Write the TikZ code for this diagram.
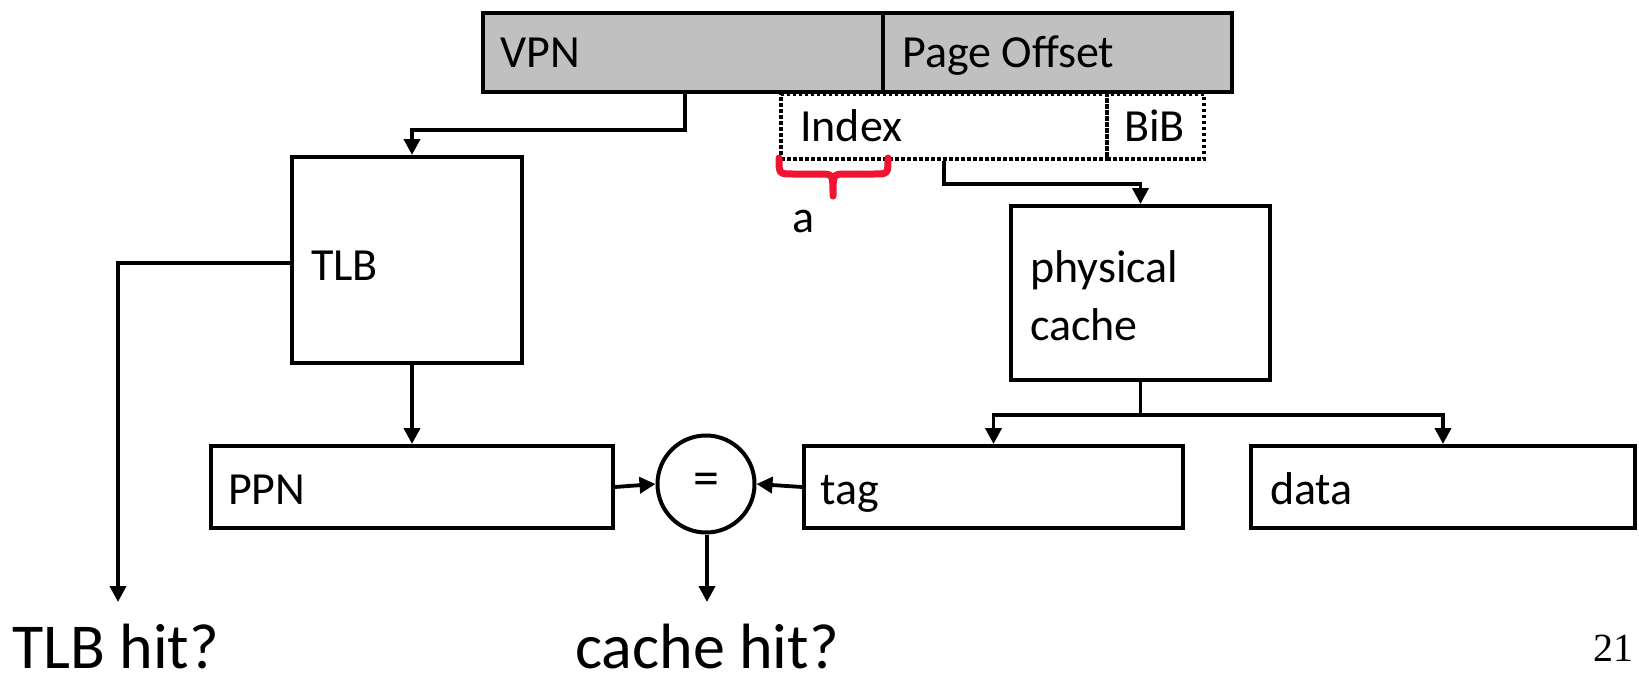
\documentclass[tikz,border=0pt]{standalone}
\usepackage{fontspec}
\setmainfont{Carlito}
\newfontfamily\numfont{Liberation Serif}
\usetikzlibrary{shapes.geometric,arrows.meta,calc}
\definecolor{boxgray}{RGB}{192,192,192}
\definecolor{bracered}{RGB}{240,20,50}
\begin{document}
\begin{tikzpicture}[x=1pt,y=-1pt,
  box/.style={draw, line width=4pt, rectangle, inner sep=0pt, anchor=north west},
  graybox/.style={box, line width=4.2pt, fill=boxgray},
  dotbox/.style={draw, line width=4pt, dash pattern=on 3.5pt off 2.5pt, rectangle, inner sep=0pt, anchor=north west},
  lbl/.style={anchor=base west, inner sep=0pt, font=\fontsize{46}{56}\selectfont},
  big/.style={anchor=base west, inner sep=0pt, font=\fontsize{64}{76}\selectfont},
  arr/.style={draw, line width=3.8pt, -{Triangle[length=16pt,width=16pt]}},
  conn/.style={draw, line width=3.8pt}]
\useasboundingbox (0,0) rectangle (1639,680);

% top address
\node[graybox, minimum width=400pt, minimum height=79pt] (vpn) at (481,10.5) {};
\node[graybox, minimum width=349pt, minimum height=79pt] (po) at (881,10.5) {};
\node[lbl] (vpnt) at (500,67) {VPN};
\node[lbl] (pot) at (902,67) {Page Offset};

% index / BiB
\node[dotbox, minimum width=326pt, minimum height=65pt] (idx) at (779,92) {};
\node[dotbox, minimum width=97pt, minimum height=65pt] (bib) at (1105,92) {};
\node[lbl] (idxt) at (800,141) {Index};
\node[lbl] (bibt) at (1124,141) {BiB};

% brace
\draw[bracered, line width=7pt, line cap=round, line join=round]
  (779,158) .. controls (779,174) and (779,174) .. (793,174) -- (820,174)
  .. controls (833,174) and (833,174) .. (833,196)
  .. controls (833,174) and (833,174) .. (846,174) -- (874,174)
  .. controls (888,174) and (888,174) .. (888,158);
\node[lbl] (at) at (792,232) {a};

% TLB
\node[box, minimum width=230pt, minimum height=206pt] (tlb) at (290,155) {};
\node[lbl] (tlbt) at (311,280) {TLB};

% physical cache
\node[box, minimum width=259pt, minimum height=174pt] (cache) at (1009,204) {};
\node[lbl] (cachet) at (1030,282) {physical};
\node[lbl] (cachet2) at (1030,340) {cache};

% bottom row
\node[box, minimum width=402pt, minimum height=82pt] (ppn) at (209,444) {};
\node[lbl] (ppnt) at (228,504) {PPN};
\node[draw, line width=4pt, ellipse, minimum width=97pt, minimum height=97pt, inner sep=0pt, font=\fontsize{52}{60}\selectfont] (eq) at (706,484) {=};
\node[box, minimum width=379pt, minimum height=82pt] (tag) at (802,444) {};
\node[lbl] (tagt) at (820,504) {tag};
\node[box, minimum width=384pt, minimum height=82pt] (data) at (1249,444) {};
\node[lbl] (datat) at (1270,504) {data};

% outputs
\node[big] (tlbhit) at (12,668) {TLB hit?};
\node[big] (cachehit) at (575,668) {cache hit?};
\coordinate (tlbhitend) at (118,602);
\coordinate (cachehitend) at (707,602);
\node[anchor=base east, inner sep=0pt, font=\numfont\fontsize{40}{44}\selectfont] (pg) at (1634,661) {21};

% connectors
\draw[arr] ([xshift=2pt]vpn.south) -- ++(0,36) -| ([xshift=5pt]tlb.north);
\draw[arr] ([yshift=-3pt]tlb.west) -| (tlbhitend);
\draw[arr] ([xshift=5pt]tlb.south) -- ([xshift=5pt]tlb.south |- ppn.north);
\draw[arr] (ppn.east) -- (eq.west);
\draw[arr] (tag.west) -- (eq.east);
\draw[arr] (eq.south -| cachehitend) -- (cachehitend);
\draw[arr] ($(idx.south west)+(165,0)$) -- ++(0,23) -| (cache.north);
\draw[conn] (cache.south) -- ++(0,33) coordinate (split);
\draw[arr] (split) -| (tag.north);
\draw[arr] (split) -| (data.north);
\end{tikzpicture}
\end{document}
